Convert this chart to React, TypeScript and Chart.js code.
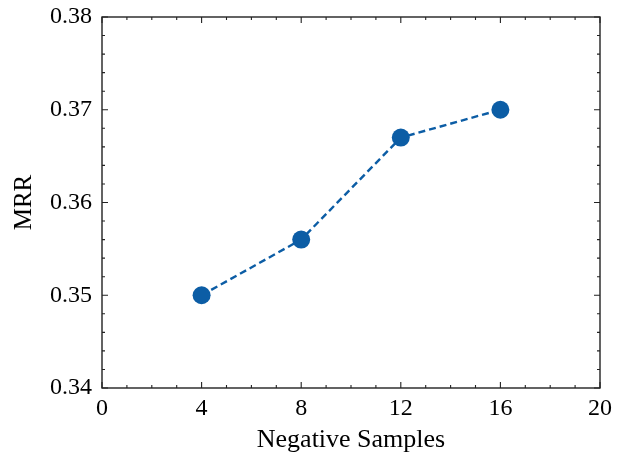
import React, { useEffect, useRef } from "react";
import { Chart, registerables } from "chart.js";

Chart.register(...registerables);

const negativeSamples = [4, 8, 12, 16];
const mrrValues = [0.35, 0.356, 0.367, 0.37];
const xTickValues = [0, 4, 8, 12, 16, 20];
const yTickValues = [0.34, 0.35, 0.36, 0.37, 0.38];
const xLabel = "Negative Samples";
const yLabel = "MRR";

const FONT = "'Liberation Serif', 'DejaVu Serif', serif";
const BLUE = "#0C5DA5";

const boxTicksPlugin = {
  id: "boxTicks",
  afterDatasetsDraw(chart: any) {
    const { ctx, chartArea, scales } = chart;
    const { left, right, top, bottom } = chartArea;
    const xs = scales.x;
    const ys = scales.y;
    ctx.save();
    ctx.strokeStyle = "#222";
    ctx.lineWidth = 1.4;
    ctx.strokeRect(left, top, right - left, bottom - top);
    ctx.lineWidth = 1.1;
    const major = 6;
    const minor = 3;
    for (let v = xs.min; v <= xs.max + 1e-9; v += 1) {
      const px = xs.getPixelForValue(v);
      const len = Math.abs(v % 4) < 1e-9 ? major : minor;
      ctx.beginPath();
      ctx.moveTo(px, bottom);
      ctx.lineTo(px, bottom - len);
      ctx.moveTo(px, top);
      ctx.lineTo(px, top + len);
      ctx.stroke();
    }
    for (let i = 0; i <= 20; i++) {
      const v = ys.min + i * 0.002;
      const py = ys.getPixelForValue(v);
      const len = i % 5 === 0 ? major : minor;
      ctx.beginPath();
      ctx.moveTo(left, py);
      ctx.lineTo(left + len, py);
      ctx.moveTo(right, py);
      ctx.lineTo(right - len, py);
      ctx.stroke();
    }
    ctx.restore();
  },
};

export default function App() {
  const ref = useRef<HTMLCanvasElement>(null);
  useEffect(() => {
    document.body.style.margin = "0";
    const canvas = ref.current!;
    const chart = new Chart(canvas, {
      type: "line",
      data: {
        datasets: [
          {
            data: negativeSamples.map((x, i) => ({ x, y: mrrValues[i] })),
            borderColor: BLUE,
            backgroundColor: BLUE,
            borderWidth: 2.4,
            borderDash: [7, 4],
            pointRadius: 9,
            pointHoverRadius: 9,
            pointBackgroundColor: BLUE,
            pointBorderColor: BLUE,
            pointBorderWidth: 0,
            fill: false,
            tension: 0,
          },
        ],
      },
      options: {
        responsive: false,
        animation: false,
        events: [],
        layout: { padding: { left: 0, top: 17, right: 27, bottom: 0 } },
        plugins: { legend: { display: false }, tooltip: { enabled: false } },
        scales: {
          x: {
            type: "linear",
            min: 0,
            max: 20,
            afterBuildTicks: (s: any) => {
              s.ticks = xTickValues.map((v) => ({ value: v }));
            },
            afterFit: (s: any) => {
              s.height = 65;
              s.paddingLeft = 0;
              s.paddingRight = 0;
            },
            grid: { display: false, drawTicks: false },
            border: { display: false },
            ticks: {
              color: "#000",
              padding: 6,
              font: { family: FONT, size: 24 },
              maxRotation: 0,
              callback: (v: any) => String(v),
            },
            title: {
              display: true,
              text: xLabel,
              color: "#000",
              font: { family: FONT, size: 26, lineHeight: 1.0 },
              padding: { top: 0, bottom: 0 },
            },
          },
          y: {
            type: "linear",
            min: 0.34,
            max: 0.38,
            afterBuildTicks: (s: any) => {
              s.ticks = yTickValues.map((v) => ({ value: v }));
            },
            afterFit: (s: any) => {
              s.width = 102;
              s.paddingTop = 0;
              s.paddingBottom = 0;
            },
            grid: { display: false, drawTicks: false },
            border: { display: false },
            ticks: {
              color: "#000",
              padding: 10,
              font: { family: FONT, size: 24 },
              callback: (v: any) => Number(v).toFixed(2),
            },
            title: {
              display: true,
              text: yLabel,
              color: "#000",
              font: { family: FONT, size: 25, lineHeight: 1.0 },
              padding: { top: 12, bottom: 0 },
            },
          },
        },
      },
      plugins: [boxTicksPlugin],
    } as any);
    return () => chart.destroy();
  }, []);
  return (
    <div style={{ width: 627, height: 453, background: "#fff" }}>
      <canvas ref={ref} width={627} height={453} />
    </div>
  );
}
